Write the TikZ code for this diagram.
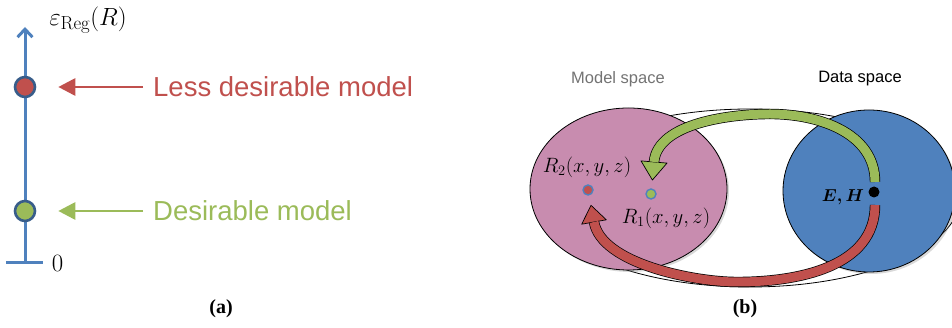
\documentclass[tikz,border=0pt]{standalone}
\usepackage{amsmath,amssymb}
\usepackage{fontspec}
\setsansfont{Liberation Sans}
\newfontfamily\capfont{Liberation Serif}
\usetikzlibrary{arrows.meta,positioning,calc,shapes.geometric,shadows}
\definecolor{axisblue}{HTML}{4F81BD}
\definecolor{dotrim}{HTML}{385D8A}
\definecolor{badred}{HTML}{C0504D}
\definecolor{goodgreen}{HTML}{9BBB59}
\definecolor{modelpink}{HTML}{C88CAF}
\definecolor{datablue}{HTML}{4F81BD}

\begin{document}
\begin{tikzpicture}[x=1pt,y=1pt,>=Stealth,
 dot/.style={circle,draw=dotrim,line width=2.6pt,fill=#1,minimum size=20pt,inner sep=0pt},
 pdot/.style={circle,draw=axisblue,line width=1.4pt,fill=#1,minimum size=10pt,inner sep=0pt},
 ptr/.style={-{Triangle[length=17pt,width=17pt]},draw=#1,line width=2.8pt,shorten <=10pt,shorten >=22pt},
 lbl/.style={anchor=west,inner sep=0pt,text=#1,font=\sffamily\fontsize{27.5}{30}\selectfont},
 space/.style={ellipse,draw=black,line width=.8pt,fill=#1,inner sep=0pt,outer sep=0pt,drop shadow={shadow xshift=2pt,shadow yshift=-2pt,opacity=.3}},
 sptitle/.style={font=\sffamily\fontsize{16.5}{18}\selectfont,text=#1},
 mathlbl/.style={inner sep=0pt,font=\fontsize{22}{24}\selectfont},
 body/.style={draw=black,line width=.7pt,double=#1,double distance=9pt},
 head/.style={draw=black,line width=.7pt,fill=#1,line join=round}]
\useasboundingbox (0,0) rectangle (952,328);
\coordinate (axbot) at (25,65);
\coordinate (axtop) at (25,301);
\draw[axisblue,line width=3pt,-{Straight Barb[length=8pt,width=15pt]}] (axbot) -- (axtop);
\draw[axisblue,line width=3pt] ([xshift=-19pt]axbot) -- ([xshift=18pt]axbot);
\node[font=\fontsize{26}{28}\selectfont] (zero) at (57.5,65) {$0$};
\node[font=\fontsize{27}{30}\selectfont] (eps) at (88,308) {$\varepsilon_{\mathrm{Reg}}(R)$};
\node[dot=badred] (bad) at (25,241) {};
\node[dot=goodgreen] (good) at (25,117) {};
\node[lbl=badred] (less) at (153,241) {Less desirable model};
\node[lbl=goodgreen] (des) at (153,117) {Desirable model};
\draw[ptr=badred] (less.west) -- (bad);
\draw[ptr=goodgreen] (des.west) -- (good);
\node[font=\capfont\bfseries\fontsize{20}{22}\selectfont] (capa) at (221,19) {(a)};
\coordinate (loop) at (750,130);
\draw[line width=.8pt,fill=white] (loop) ellipse [x radius=210,y radius=89];
\node[space=modelpink,minimum width=197pt,minimum height=162pt] (model) at (628.5,139) {};
\node[space=datablue,minimum width=172pt,minimum height=162pt] (data) at (869,137) {};
\node[sptitle=black!55] (mtitle) at (618,249) {Model space};
\node[sptitle=black] (dtitle) at (860,249) {Data space};
\node[pdot=badred] (r2) at (588,138) {};
\node[pdot=goodgreen] (r1) at (651,134) {};
\node[circle,fill=black,minimum size=11pt,inner sep=0pt] (eh) at (874,136) {};
\node[mathlbl] (r2lbl) at (587,161) {$R_2(x,y,z)$};
\node[mathlbl] (r1lbl) at (666,110) {$R_1(x,y,z)$};
\node[mathlbl,font=\fontsize{18.5}{20}\selectfont] (ehlbl) at (843,131) {$\boldsymbol{E,H}$};
\coordinate (gtail) at (875,146);
\coordinate (gtop) at (770,214);
\coordinate (gend) at (654,166);
\filldraw[head=goodgreen] ([shift={(-1.6,-18)}]gend) -- ([shift={(13,-1.1)}]gend) -- ([shift={(-13,1.1)}]gend) -- cycle;
\draw[body=goodgreen] (gtail) to[out=90,in=0] (gtop) to[out=180,in=85,looseness=.8] (gend);
\coordinate (rtail) at (875,123);
\coordinate (rlow) at (737,46);
\coordinate (rend) at (594,106);
\filldraw[head=badred] ([shift={(-3,16.7)}]rend) -- ([shift={(12.3,2.2)}]rend) -- ([shift={(-12.3,-2.2)}]rend) -- cycle;
\draw[body=badred] (rtail) to[out=-90,in=0] (rlow) to[out=180,in=-80,looseness=.7] (rend);
\node[font=\capfont\bfseries\fontsize{20}{22}\selectfont] (capb) at (745,19) {(b)};
\end{tikzpicture}
\end{document}
